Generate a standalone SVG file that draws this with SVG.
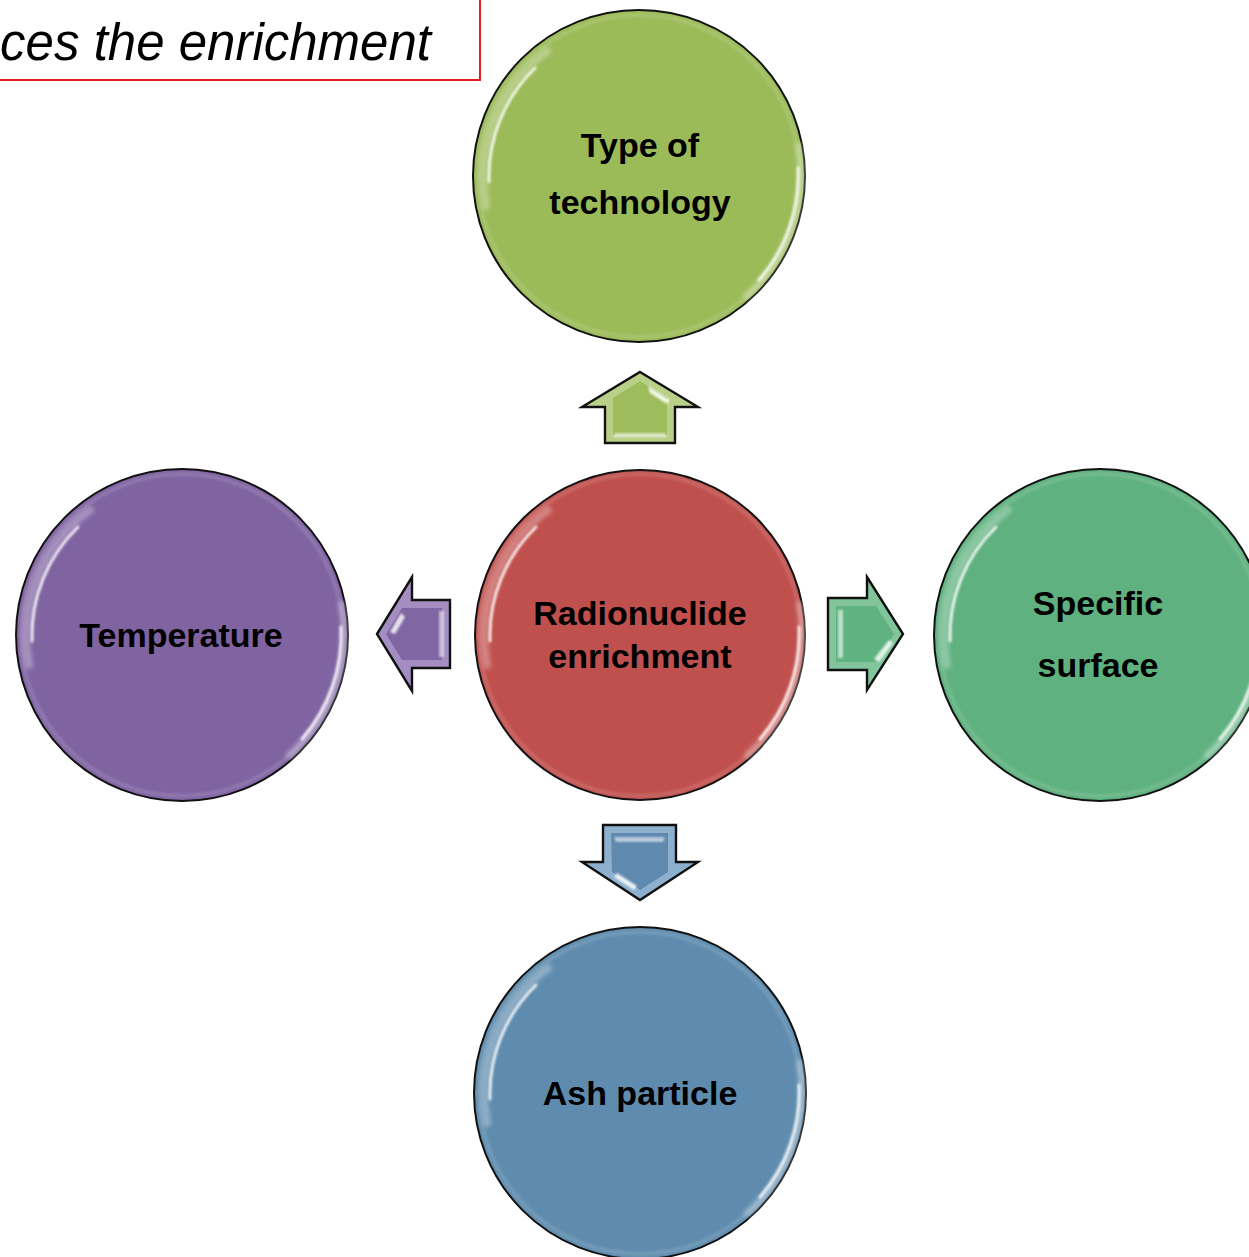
<svg xmlns="http://www.w3.org/2000/svg" width="1249" height="1257" viewBox="0 0 1249 1257">
  <style>
    .lbl { font-family: "Liberation Sans", Arial, sans-serif; font-weight: bold; font-size: 34px; fill: #000; text-anchor: middle; }
    .title { font-family: "Liberation Sans", Arial, sans-serif; font-style: italic; font-size: 51px; fill: #000; text-anchor: end; }
    .ring { stroke: #111; stroke-width: 2; }
    .edge { stroke: #111; stroke-width: 2.4; stroke-linejoin: miter; }
    .shine { fill: none; stroke: #fff; stroke-linecap: round; }
  </style>
  <defs>
    <filter id="soft" x="-20%" y="-20%" width="140%" height="140%">
      <feGaussianBlur stdDeviation="2.2"/>
    </filter>
    <filter id="soft2" x="-20%" y="-20%" width="140%" height="140%">
      <feGaussianBlur stdDeviation="0.9"/>
    </filter>
    <!-- glossy rim highlights for a bubble of radius 166 centred at 0,0 -->
    <g id="gloss">
      <circle r="161" fill="none" stroke="#fff" stroke-opacity="0.12" stroke-width="4" filter="url(#soft2)"/>
      <path class="shine" d="M -153 30 A 155 155 0 0 1 -92 -125" stroke-width="8" opacity="0.3" filter="url(#soft)"/>
      <path class="shine" d="M -150 6 A 151 151 0 0 1 -104 -108" stroke-width="3" opacity="0.85" filter="url(#soft2)"/>
      <path class="shine" d="M 160 -30 A 161 161 0 0 1 108 120" stroke-width="8" opacity="0.3" filter="url(#soft)"/>
      <path class="shine" d="M 159 -8 A 159 159 0 0 1 120 104" stroke-width="3" opacity="0.85" filter="url(#soft2)"/>
    </g>
  </defs>

  <rect width="1249" height="1257" fill="#fff"/>

  <!-- heading box, cut by the page edge -->
  <g id="heading">
    <rect x="-10" y="-10" width="490" height="90" fill="#fff" stroke="#e81b1b" stroke-width="2"/>
    <text class="title" x="431" y="60">ces the enrichment</text>
  </g>

  <!-- outer nodes -->
  <g id="node-technology">
    <circle class="ring" cx="639" cy="176" r="166" fill="#9BBB59"/>
    <use href="#gloss" x="639" y="176"/>
    <text class="lbl" x="640" y="157">Type of</text>
    <text class="lbl" x="640" y="214">technology</text>
  </g>

  <g id="node-temperature">
    <circle class="ring" cx="182" cy="635" r="166" fill="#8064A2"/>
    <use href="#gloss" x="182" y="635"/>
    <text class="lbl" x="181" y="647">Temperature</text>
  </g>

  <g id="node-radionuclide">
    <circle class="ring" cx="640" cy="635" r="165" fill="#C0504D"/>
    <use href="#gloss" x="640" y="635"/>
    <text class="lbl" x="640" y="625">Radionuclide</text>
    <text class="lbl" x="640" y="668">enrichment</text>
  </g>

  <g id="node-surface">
    <circle class="ring" cx="1100" cy="635" r="166" fill="#5FB17F"/>
    <use href="#gloss" x="1100" y="635"/>
    <text class="lbl" x="1098" y="615">Specific</text>
    <text class="lbl" x="1098" y="677">surface</text>
  </g>

  <g id="node-ash">
    <circle class="ring" cx="640" cy="1093" r="166" fill="#5F8CAE"/>
    <use href="#gloss" x="640" y="1093"/>
    <text class="lbl" x="640" y="1105">Ash particle</text>
  </g>

  <!-- bevelled block arrows from the centre node -->
  <g id="connectors">
    <g id="arrow-up">
      <path class="edge" d="M640,372 L698,407 L675,407 L675,443 L605,443 L605,407 L582,407 Z" fill="#B9D088"/>
      <path d="M640,381 L667,398 L667,435 L613,435 L613,398 Z" fill="#9DBD5C"/>
      <path d="M648,386 L670,400 L667,404 L650,393 Z" fill="#fff" opacity="0.85" filter="url(#soft2)"/>
      <path d="M615,433 L665,433 L667,437 L613,437 Z" fill="#fff" opacity="0.6" filter="url(#soft2)"/>
    </g>
    <g id="arrow-left">
      <path class="edge" d="M377,634 L412,577 L412,600 L450,600 L450,668 L412,668 L412,691 Z" fill="#A48DC0"/>
      <path d="M386,634 L402,608 L442,608 L442,660 L402,660 Z" fill="#8166A4"/>
      <path d="M390,632 L401,613 L405,617 L395,634 Z" fill="#fff" opacity="0.8" filter="url(#soft2)"/>
      <path d="M439,611 L444,611 L444,657 L439,657 Z" fill="#fff" opacity="0.55" filter="url(#soft2)"/>
    </g>
    <g id="arrow-right">
      <path class="edge" d="M828,598 L867,598 L867,577 L903,634 L867,690 L867,670 L828,670 Z" fill="#82C59C"/>
      <path d="M836,606 L876,606 L894,634 L876,662 L836,662 Z" fill="#60B280"/>
      <path d="M838,610 L843,610 L843,658 L838,658 Z" fill="#fff" opacity="0.6" filter="url(#soft2)"/>
      <path d="M889,640 L893,643 L879,662 L874,659 Z" fill="#fff" opacity="0.8" filter="url(#soft2)"/>
    </g>
    <g id="arrow-down">
      <path class="edge" d="M603,825 L676,825 L676,862 L698,862 L640,900 L582,862 L603,862 Z" fill="#8CB0CE"/>
      <path d="M611,833 L668,833 L668,872 L640,890 L612,872 Z" fill="#6089B0"/>
      <path d="M614,837 L665,837 L663,842 L616,842 Z" fill="#fff" opacity="0.55" filter="url(#soft2)"/>
      <path d="M617,873 L637,886 L634,890 L614,877 Z" fill="#fff" opacity="0.85" filter="url(#soft2)"/>
    </g>
  </g>
</svg>
